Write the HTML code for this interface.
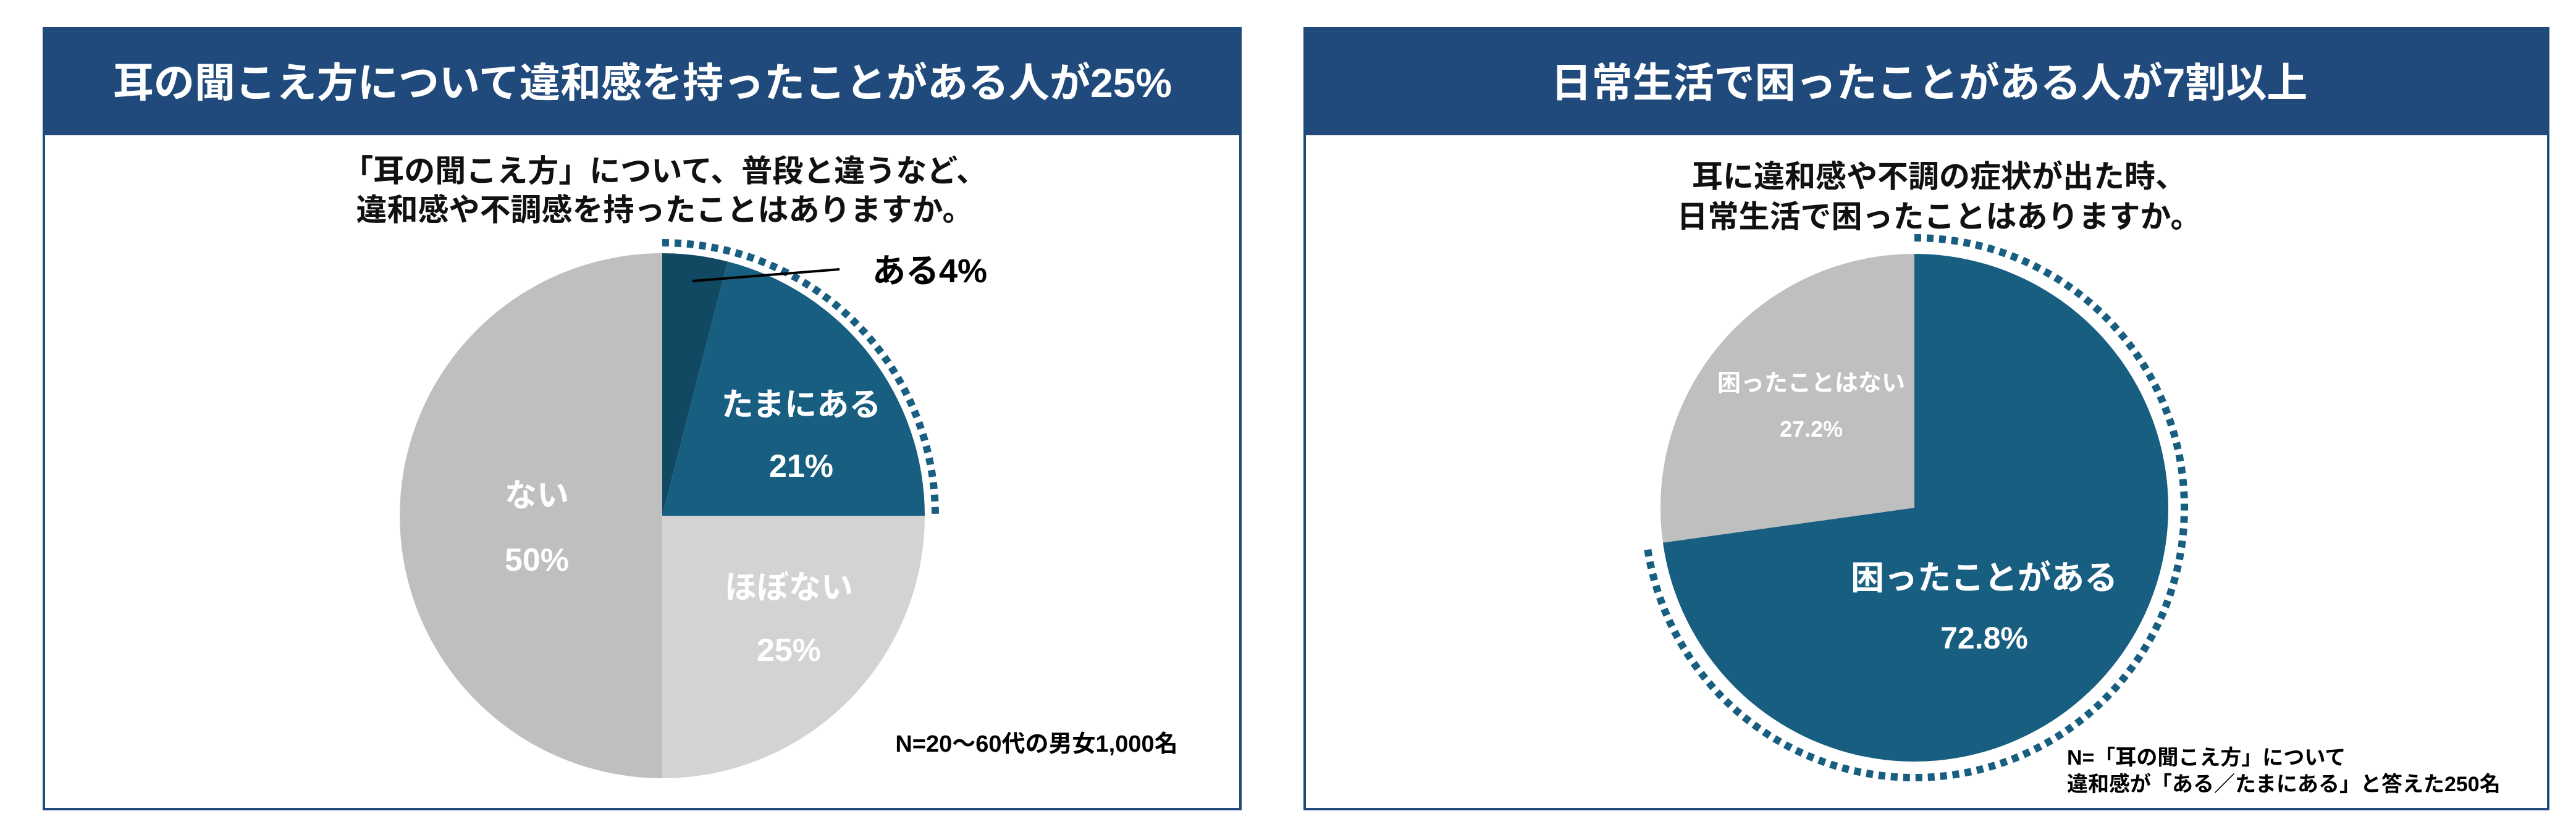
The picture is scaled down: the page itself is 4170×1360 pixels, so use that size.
<!DOCTYPE html>
<html><head><meta charset="utf-8"><style>
body{margin:0;background:#fff;}
svg text{font-family:"Liberation Sans","Noto Sans CJK JP",sans-serif;font-weight:bold;}
</style></head><body>
<svg id="s" width="4170" height="1355" viewBox="0 0 4170 1355" xmlns="http://www.w3.org/2000/svg">
<g>
<rect x="71" y="46" width="1937" height="1264" fill="#fff" stroke="#1f4a7a" stroke-width="4"/>
<rect x="71" y="46" width="1937" height="173" fill="#204a7b"/>
<text x="1040" y="157" font-size="66" fill="#fff" text-anchor="middle">耳の聞こえ方について違和感を持ったことがある人が25%</text>
<text x="1076" y="294" font-size="50" fill="#111" text-anchor="middle">「耳の聞こえ方」について、普段と違うなど、</text>
<text x="1076" y="357" font-size="50" fill="#111" text-anchor="middle">違和感や不調感を持ったことはありますか。</text>
<g id="pie1"></g>
<line x1="1121" y1="455" x2="1359" y2="436" stroke="#000" stroke-width="4"/>
<text x="1412" y="457" font-size="54" fill="#000">ある4%</text>
<text x="1678" y="1217" font-size="38" fill="#000" text-anchor="middle">N=20～60代の男女1,000名</text>
</g>
<g>
<rect x="2112" y="46" width="2013" height="1264" fill="#fff" stroke="#1f4a7a" stroke-width="4"/>
<rect x="2112" y="46" width="2013" height="173" fill="#204a7b"/>
<text x="3123" y="157" font-size="66" fill="#fff" text-anchor="middle">日常生活で困ったことがある人が7割以上</text>
<text x="3139" y="303" font-size="50" fill="#111" text-anchor="middle">耳に違和感や不調の症状が出た時、</text>
<text x="3139" y="368" font-size="50" fill="#111" text-anchor="middle">日常生活で困ったことはありますか。</text>
<g id="pie2"></g>
<text x="3346" y="1238" font-size="34" fill="#000">N=「耳の聞こえ方」について</text>
<text x="3346" y="1281" font-size="34" fill="#000">違和感が「ある／たまにある」と答えた250名</text>
</g>
</svg>
<script>
const leftCategories=["ある","たまにある","ほぼない","ない"];
const leftValues=[4,21,25,50];
const leftColors=["#114862","#175e80","#d3d3d3","#bfbfbf"];
const rightCategories=["困ったことがある","困ったことはない"];
const rightValues=[72.8,27.2];
const rightColors=["#175e80","#bfbfbf"];
const NS="http://www.w3.org/2000/svg";
function pt(cx,cy,r,frac){const a=frac*2*Math.PI;return [cx+r*Math.sin(a),cy-r*Math.cos(a)];}
function arcPath(cx,cy,r,f0,f1){const p0=pt(cx,cy,r,f0),p1=pt(cx,cy,r,f1);const large=(f1-f0)>0.5?1:0;return `M${p0[0]},${p0[1]} A${r},${r} 0 ${large} 1 ${p1[0]},${p1[1]}`;}
function drawPie(gid,vals,cols,cx,cy,r){
  const g=document.getElementById(gid);const tot=vals.reduce((a,b)=>a+b,0);let c=0;
  vals.forEach((v,i)=>{const f0=c/tot,f1=(c+v)/tot;c+=v;
    const p=document.createElementNS(NS,"path");
    const c0=pt(cx,cy,r,f0);
    p.setAttribute("d",`M${cx},${cy} L${c0[0]},${c0[1]} `+arcPath(cx,cy,r,f0,f1).replace(/^M[^A]*/,"")+" Z");
    p.setAttribute("fill",cols[i]);
    
    
    g.appendChild(p);});
  return tot;
}
function drawDots(gid,f1,cx,cy,r){
  const g=document.getElementById(gid);
  const p=document.createElementNS(NS,"path");
  p.setAttribute("d",arcPath(cx,cy,r,0.0,f1));
  p.setAttribute("fill","none");p.setAttribute("stroke","#175e80");
  p.setAttribute("stroke-width","12");p.setAttribute("stroke-dasharray","11 9");
  
  
  g.appendChild(p);
}
function label(gid,x,y,txt,size){
  const t=document.createElementNS(NS,"text");
  t.setAttribute("x",x);t.setAttribute("y",y);t.setAttribute("font-size",size);
  t.setAttribute("fill","#fff");t.setAttribute("text-anchor","middle");
  t.textContent=txt;
  
  
  document.getElementById(gid).appendChild(t);
}
const lt=drawPie("pie1",leftValues,leftColors,1072,835,425);
drawDots("pie1",(leftValues[0]+leftValues[1])/lt,1072,835,442);
label("pie1",1297,673,leftCategories[1],52);label("pie1",1297,772,leftValues[1]+"%",52);
label("pie1",1277,969,leftCategories[2],52);label("pie1",1277,1070,leftValues[2]+"%",52);
label("pie1",869,820,leftCategories[3],52);label("pie1",869,924,leftValues[3]+"%",52);
const rt=drawPie("pie2",rightValues,rightColors,3099,822,411);
drawDots("pie2",rightValues[0]/rt,3099,822,437);
label("pie2",3212,954,rightCategories[0],54);label("pie2",3212,1050,rightValues[0]+"%",50);
label("pie2",2932,633,rightCategories[1],38);label("pie2",2932,707,rightValues[1]+"%",36);
</script>
</body></html>
